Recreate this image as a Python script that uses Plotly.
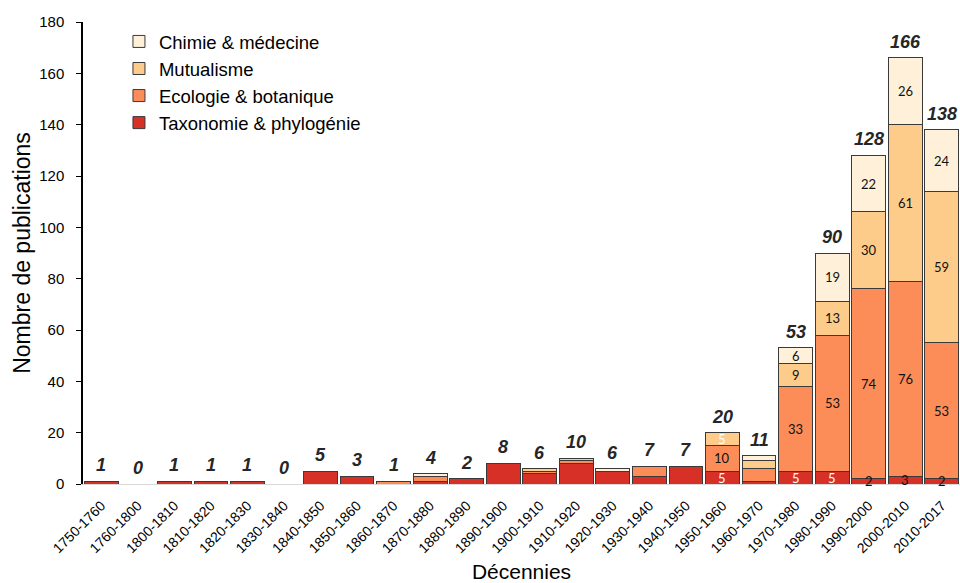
import plotly.graph_objects as go
import numpy as np

decades = ["1750-1760", "1760-1800", "1800-1810", "1810-1820", "1820-1830", "1830-1840",
           "1840-1850", "1850-1860", "1860-1870", "1870-1880", "1880-1890", "1890-1900",
           "1900-1910", "1910-1920", "1920-1930", "1930-1940", "1940-1950", "1950-1960",
           "1960-1970", "1970-1980", "1980-1990", "1990-2000", "2000-2010", "2010-2017"]

taxonomie = [1, 0, 1, 1, 1, 0, 5, 3, 0, 1, 2, 8, 4, 8, 5, 3, 7, 5, 1, 5, 5, 2, 3, 2]
ecologie  = [0, 0, 0, 0, 0, 0, 0, 0, 1, 2, 0, 0, 1, 1, 0, 4, 0, 10, 5, 33, 53, 74, 76, 53]
mutualisme = [0, 0, 0, 0, 0, 0, 0, 0, 0, 0, 0, 0, 1, 1, 0, 0, 0, 5, 3, 9, 13, 30, 61, 59]
chimie    = [0, 0, 0, 0, 0, 0, 0, 0, 0, 1, 0, 0, 0, 0, 1, 0, 0, 0, 2, 6, 19, 22, 26, 24]

series_names = ["Taxonomie & phylogénie", "Ecologie & botanique", "Mutualisme", "Chimie & médecine"]
series_colors = ["#D73027", "#FC8D59", "#FDCC8A", "#FEF0D9"]
series_values = [taxonomie, ecologie, mutualisme, chimie]

labelled_decades = ["1950-1960", "1970-1980", "1980-1990", "1990-2000", "2000-2010", "2010-2017"]
white_labels = {("1950-1960", 0), ("1950-1960", 2), ("1970-1980", 0), ("1980-1990", 0)}

fig = go.Figure()
for name, color, vals in zip(series_names, series_colors, series_values):
    fig.add_trace(go.Bar(
        x=decades, y=vals, name=name,
        marker=dict(color=color, line=dict(color="#3a3a3a", width=1)),
        hoverinfo="skip",
    ))

totals = np.sum(np.array(series_values), axis=0)
annotations = []
for i, d in enumerate(decades):
    annotations.append(dict(
        x=d, y=float(totals[i]), xref="x", yref="y", text=f"<b><i>{int(totals[i])}</i></b>",
        showarrow=False, yanchor="bottom", yshift=4,
        font=dict(family="Liberation Sans, Arial", size=18, color="#262626"),
    ))
    if d in labelled_decades:
        base = 0
        for s, vals in enumerate(series_values):
            v = vals[i]
            if v > 0:
                col = "white" if (d, s) in white_labels else "#111111"
                annotations.append(dict(
                    x=d, y=base + v / 2, xref="x", yref="y", text=str(v),
                    showarrow=False, yanchor="middle",
                    font=dict(family="Lato, Open Sans", size=13, color=col),
                ))
            base += v

fig.update_layout(
    barmode="stack",
    bargap=0.075,
    width=960, height=583,
    margin=dict(l=83, r=0, t=22, b=99, autoexpand=False),
    plot_bgcolor="white", paper_bgcolor="white",
    font=dict(family="Liberation Sans, Arial", color="black"),
    showlegend=True,
    legend=dict(
        x=0.041, y=0.998, xanchor="left", yanchor="top",
        traceorder="reversed",
        font=dict(size=18.5, color="black"),
        bgcolor="rgba(0,0,0,0)",
        tracegroupgap=0,
    ),
    annotations=annotations,
)
fig.update_xaxes(
    type="category",
    tickangle=-45,
    tickfont=dict(size=14, color="black"),
    ticklabelstandoff=7,
    showline=True, linecolor="#d9d9d9", linewidth=1,
    ticks="",
    automargin=False,
    title=dict(text="Décennies", font=dict(size=21, color="black"), standoff=14),
)
fig.update_yaxes(
    range=[0, 180],
    dtick=20,
    showgrid=False,
    zeroline=False,
    showline=True, linecolor="black", linewidth=1.5,
    ticks="outside", ticklen=5, tickcolor="black",
    tickfont=dict(size=15, color="black"),
    ticklabelstandoff=9,
    automargin=False,
    title=dict(text="Nombre de publications", font=dict(size=23, color="black"), standoff=2),
)

fig.write_html(
    "out.html",
    config={"displayModeBar": False},
    post_script="document.body.style.margin='0';document.body.style.overflow='hidden';",
)
